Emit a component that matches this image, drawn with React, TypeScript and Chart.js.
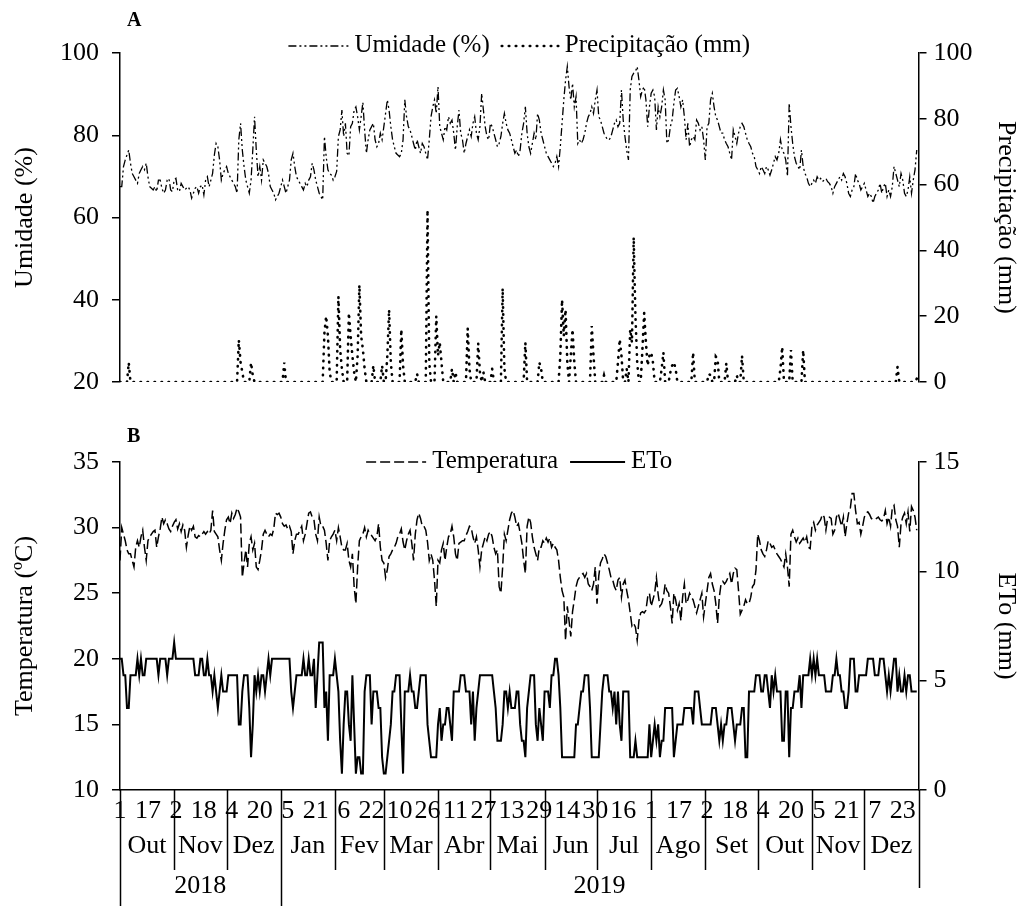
import React, { useEffect, useRef } from 'react';
import { Chart, registerables } from 'chart.js';

Chart.register(...registerables);

const FONT = "'Liberation Serif', 'Times New Roman', Times, serif";

// ---- axis / category data ----
const dayTickValues = [0, 16, 32, 48, 64, 80, 96, 112, 128, 144, 160, 176, 192, 208, 224, 240, 256, 272, 288, 304, 320, 336, 352, 368, 384, 400, 416, 432, 448];
const dayTickLabels = ['1', '17', '2', '18', '4', '20', '5', '21', '6', '22', '10', '26', '11', '27', '13', '29', '14', '30', '16', '1', '17', '2', '18', '4', '20', '5', '21', '7', '23'];
const monthStarts = [0, 31, 61, 92, 123, 151, 182, 212, 243, 273, 304, 335, 365, 396, 426, 457];
const monthNames = ['Out', 'Nov', 'Dez', 'Jan', 'Fev', 'Mar', 'Abr', 'Mai', 'Jun', 'Jul', 'Ago', 'Set', 'Out', 'Nov', 'Dez'];
const yearStarts = [0, 92, 457];
const yearNames = ['2018', '2019'];

// ---- daily series, 1 Oct 2018 .. 31 Dec 2019 ----
const umidade = [
  67.5, 67.5, 72.4, 74.0, 75.2, 76.4, 73.2, 70.7, 69.9, 69.1,
  68.3, 70.7, 71.6, 72.4, 71.6, 73.2, 69.9, 67.5, 67.1, 66.7,
  67.5, 66.3, 69.1, 69.1, 67.1, 65.9, 66.7, 69.1, 69.5, 66.7,
  66.3, 69.1, 69.5, 66.7, 66.3, 68.3, 67.5, 66.7, 67.1, 67.5,
  66.7, 64.7, 65.9, 67.1, 67.5, 65.9, 67.5, 67.9, 65.5, 69.1,
  69.9, 67.5, 69.1, 70.7, 75.2, 78.0, 77.2, 74.0, 69.1, 70.7,
  71.6, 72.4, 70.7, 69.9, 69.1, 68.3, 67.5, 65.9, 78.9, 82.9,
  76.4, 72.4, 69.1, 67.5, 65.9, 69.1, 76.4, 84.5, 76.4, 69.9,
  72.4, 69.1, 74.0, 73.2, 72.4, 70.7, 67.5, 66.7, 65.9, 64.3,
  65.1, 65.9, 67.5, 69.1, 67.5, 65.9, 67.5, 69.1, 74.0, 75.6,
  72.4, 69.9, 69.1, 68.3, 67.5, 66.7, 68.3, 67.5, 69.1, 69.9,
  73.2, 71.6, 69.1, 67.5, 65.9, 65.1, 64.3, 79.7, 74.8, 71.6,
  70.7, 70.3, 69.1, 69.9, 71.2, 79.7, 81.3, 86.1, 79.7, 82.9,
  75.6, 75.0, 82.1, 82.9, 86.1, 86.9, 84.5, 81.3, 84.5, 88.0,
  81.3, 75.6, 78.9, 81.3, 82.1, 82.9, 78.9, 77.2, 78.0, 80.5,
  78.9, 82.1, 85.3, 88.6, 86.1, 82.1, 78.9, 77.2, 75.6, 75.2,
  74.8, 75.6, 78.9, 88.6, 84.5, 82.1, 81.3, 79.7, 78.0, 76.4,
  78.9, 77.2, 75.6, 78.0, 77.2, 75.6, 74.0, 78.9, 84.5, 86.9,
  88.6, 85.3, 91.8, 82.1, 80.5, 78.9, 82.1, 81.3, 84.5, 82.9,
  83.7, 80.5, 76.4, 82.1, 86.1, 80.5, 78.9, 75.6, 78.0, 79.7,
  81.3, 79.7, 82.9, 84.5, 80.5, 78.9, 82.1, 90.2, 86.1, 82.1,
  79.7, 78.9, 82.9, 82.1, 80.5, 78.9, 77.2, 78.0, 79.7, 82.9,
  85.3, 82.9, 81.3, 80.5, 78.9, 77.2, 75.6, 76.4, 74.8, 76.4,
  80.5, 82.9, 86.9, 80.5, 77.2, 75.6, 78.0, 80.5, 78.9, 85.3,
  83.7, 80.5, 78.9, 77.2, 75.6, 74.8, 74.0, 73.2, 72.4, 73.2,
  74.8, 72.4, 77.2, 82.9, 88.6, 93.4, 96.7, 91.8, 88.6, 92.6,
  86.9, 89.4, 78.0, 78.9, 78.0, 78.9, 80.5, 82.9, 84.5, 85.3,
  86.9, 85.3, 88.6, 91.0, 84.5, 83.7, 82.1, 80.5, 79.7, 78.9,
  78.9, 79.7, 81.3, 82.9, 83.7, 82.1, 82.9, 91.0, 83.7, 79.7,
  76.4, 74.0, 91.0, 94.3, 95.1, 95.5, 96.7, 93.4, 89.4, 91.0,
  91.8, 88.6, 82.1, 86.9, 90.2, 91.0, 89.4, 81.3, 86.9, 84.5,
  86.9, 91.0, 88.6, 78.0, 78.9, 82.1, 83.7, 87.8, 91.0, 91.4,
  89.4, 86.9, 88.6, 84.5, 78.9, 82.9, 77.2, 78.9, 79.7, 78.9,
  83.7, 82.9, 81.3, 82.1, 78.9, 74.0, 82.1, 82.9, 88.6, 90.2,
  86.9, 84.5, 83.7, 82.1, 80.5, 80.5, 78.9, 78.0, 77.2, 75.6,
  74.0, 81.3, 79.7, 78.0, 80.5, 82.1, 82.9, 82.1, 80.5, 78.9,
  78.0, 77.2, 75.6, 74.8, 72.4, 71.6, 70.7, 72.4, 71.6, 70.7,
  72.4, 71.6, 70.3, 71.6, 73.2, 74.8, 74.0, 75.6, 78.9, 76.4,
  75.6, 74.0, 70.0, 87.8, 82.1, 78.0, 74.8, 73.2, 72.4, 71.6,
  76.4, 72.4, 70.7, 69.9, 68.3, 67.5, 68.3, 69.1, 68.3, 69.9,
  69.1, 69.5, 68.7, 69.1, 69.5, 68.7, 68.3, 67.5, 65.9, 67.5,
  68.3, 69.1, 69.9, 69.1, 70.7, 69.9, 68.3, 65.9, 65.1, 66.7,
  67.5, 70.7, 69.1, 68.3, 66.7, 67.5, 68.3, 66.7, 65.1, 65.9,
  65.1, 63.5, 65.1, 65.9, 66.7, 68.3, 65.9, 67.5, 68.3, 65.1,
  66.7, 65.1, 67.5, 72.4, 70.7, 69.1, 67.5, 70.7, 69.1, 65.9,
  65.1, 66.7, 69.9, 65.9, 69.1, 71.6, 76.4,
];

const precipitacao = [
  0, 0, 0, 0, 0, 5.9, 0, 0, 0, 0,
  0, 0, 0, 0, 0, 0, 0, 0, 0, 0,
  0, 0, 0, 0, 0, 0, 0, 0, 0, 0,
  0, 0, 0, 0, 0, 0, 0, 0, 0, 0,
  0, 0, 0, 0, 0, 0, 0, 0, 0, 0,
  0, 0, 0, 0, 0, 0, 0, 0, 0, 0,
  0, 0, 0, 0, 0, 0, 0, 0, 12.8, 6,
  3, 0, 0, 0, 0, 5.9, 2, 0, 0, 0,
  0, 0, 0, 0, 0, 0, 0, 0, 0, 0,
  0, 0, 0, 0, 5.9, 0, 0, 0, 0, 0,
  0, 0, 0, 0, 0, 0, 0, 0, 0, 0,
  0, 0, 0, 0, 0, 0, 0, 15, 20, 14,
  3, 0, 0, 0, 0, 26, 10, 4, 0, 0,
  0, 21, 14, 8, 3, 0, 8, 29.5, 14, 10,
  4, 0, 0, 0, 0, 5, 0, 0, 0, 0,
  5, 0, 0, 8, 22, 6, 0, 0, 0, 0,
  0, 16, 5, 0, 0, 0, 0, 0, 0, 0,
  2.5, 0, 0, 0, 0, 0, 52.3, 6, 0, 0,
  0, 20, 8, 12, 6, 0, 0, 0, 0, 0,
  4, 0, 3, 0, 0, 0, 0, 0, 0, 16.3,
  4, 0, 0, 0, 0, 11.8, 3, 0, 3, 0,
  0, 0, 0, 4, 0, 0, 0, 0, 0, 28.5,
  4, 0, 0, 0, 0, 0, 0, 0, 0, 0,
  0, 0, 12, 0, 0, 0, 0, 0, 0, 0,
  6, 4, 0, 0, 0, 0, 0, 0, 0, 0,
  0, 0, 8, 25, 14, 22, 6, 0, 8, 16,
  6, 0, 0, 0, 0, 0, 0, 0, 0, 0,
  17, 8, 0, 0, 0, 0, 0, 2, 0, 0,
  0, 0, 0, 0, 0, 6, 13, 8, 0, 0,
  4, 0, 16, 12, 44, 20, 6, 0, 0, 10,
  21, 12, 5, 8, 9, 6, 0, 0, 0, 0,
  4, 9, 0, 0, 0, 3, 5, 6, 4, 0,
  0, 0, 0, 0, 0, 0, 0, 0, 9, 0,
  0, 0, 0, 0, 0, 0, 0, 2.5, 2, 0,
  0, 7.7, 7, 0, 0, 0, 0, 5.7, 0, 0,
  0, 0, 0, 2, 0, 0, 8, 0, 0, 0,
  0, 0, 0, 0, 0, 0, 0, 0, 0, 0,
  0, 0, 0, 0, 0, 0, 0, 0, 4, 10.7,
  0, 0, 0, 0, 9.7, 0, 0, 0, 0, 0,
  0, 9.7, 0, 0, 0, 0, 0, 0, 0, 0,
  0, 0, 0, 0, 0, 0, 0, 0, 0, 0,
  0, 0, 0, 0, 0, 0, 0, 0, 0, 0,
  0, 0, 0, 0, 0, 0, 0, 0, 0, 0,
  0, 0, 0, 0, 0, 0, 0, 0, 0, 0,
  0, 0, 0, 0, 0, 4.6, 0, 0, 0, 0,
  0, 0, 0, 0, 0, 0, 1,
];

const temperatura = [
  27.5, 30.0, 29.5, 29.0, 28.3, 28.0, 28.0, 27.5, 27.0, 28.5,
  29.0, 28.5, 29.3, 29.8, 28.5, 27.5, 29.0, 29.3, 29.5, 29.7,
  29.8, 28.5, 29.3, 29.9, 30.8, 30.3, 30.6, 30.3, 29.9, 29.7,
  30.1, 30.4, 30.6, 29.9, 30.3, 29.7, 30.2, 29.8, 28.5, 29.4,
  30.1, 29.8, 30.1, 29.3, 29.2, 29.4, 29.3, 29.5, 29.7, 29.5,
  29.7, 29.5, 29.8, 31.3, 29.7, 29.5, 29.3, 28.3, 27.5, 28.8,
  29.8, 30.6, 30.8, 30.3, 31.1, 30.7, 31.0, 31.5, 31.2, 30.8,
  26.2, 27.3, 28.3, 27.0, 28.8, 29.3, 28.3, 28.8, 27.0, 26.8,
  27.5, 28.3, 29.5, 29.8, 29.5, 29.3, 29.5, 29.4, 29.9, 31.1,
  31.0, 31.1, 30.8, 30.3, 30.1, 30.2, 29.9, 30.1, 29.7, 28.0,
  29.0, 29.5, 29.5, 29.8, 30.1, 29.0, 29.5, 30.3, 31.1, 31.2,
  30.8, 30.6, 29.5, 29.0, 30.8, 30.1, 30.1, 29.8, 28.8, 27.5,
  29.0, 29.3, 29.5, 29.8, 29.0, 30.0, 29.3, 28.5, 28.3, 28.3,
  28.8, 27.5, 27.0, 28.0, 25.5, 24.2, 27.0, 29.0, 29.3, 29.5,
  30.0, 29.3, 29.8, 29.5, 29.4, 29.2, 29.0, 29.3, 30.3, 28.5,
  27.5, 27.3, 26.2, 26.8, 27.8, 28.0, 28.3, 28.5, 28.8, 29.3,
  29.5, 29.9, 28.9, 28.3, 29.0, 29.5, 29.8, 28.8, 27.5, 29.5,
  30.6, 31.1, 30.7, 30.1, 30.1, 29.8, 28.9, 27.5, 28.0, 27.5,
  26.0, 24.0, 27.5, 27.3, 28.3, 28.8, 27.5, 28.5, 29.3, 29.5,
  30.1, 29.3, 28.0, 27.5, 28.8, 28.9, 29.0, 29.0, 29.4, 29.7,
  30.1, 30.0, 29.3, 28.8, 29.3, 28.3, 27.0, 28.3, 28.8, 29.3,
  29.0, 29.5, 29.7, 29.3, 28.5, 28.0, 28.3, 25.5, 25.0, 27.0,
  29.5, 29.0, 29.8, 30.6, 31.1, 31.3, 30.8, 30.1, 30.3, 29.6,
  28.8, 27.5, 26.5, 30.1, 30.8, 30.4, 29.3, 28.5, 28.0, 27.5,
  28.5, 28.5, 29.0, 28.8, 29.2, 28.9, 29.2, 28.5, 28.8, 28.5,
  28.3, 27.5, 26.2, 25.2, 24.7, 21.4, 24.0, 22.9, 21.7, 23.6,
  24.5, 25.5, 26.0, 26.2, 26.4, 26.5, 26.2, 26.5, 25.7, 25.5,
  25.2, 25.7, 27.0, 24.2, 26.3, 27.3, 27.6, 28.0, 27.8, 27.3,
  26.8, 26.2, 26.0, 25.5, 25.2, 26.0, 26.2, 24.7, 25.7, 26.0,
  25.2, 24.5, 23.5, 22.5, 22.7, 22.4, 21.4, 22.9, 23.5, 23.6,
  23.5, 23.7, 24.7, 25.0, 24.0, 24.5, 25.0, 26.2, 24.9, 24.0,
  24.2, 24.7, 25.7, 25.2, 25.0, 24.0, 22.7, 25.0, 24.5, 23.7,
  24.2, 22.9, 24.7, 25.7, 24.2, 24.5, 25.0, 24.7, 24.5, 24.0,
  23.5, 24.0, 24.5, 25.0, 23.2, 24.2, 25.2, 26.2, 26.5, 25.7,
  25.2, 24.2, 22.7, 24.7, 25.7, 25.9, 25.7, 25.9, 26.2, 26.5,
  25.7, 26.5, 26.9, 26.8, 25.2, 23.4, 23.7, 24.0, 24.5, 24.2,
  24.2, 24.7, 25.5, 25.7, 26.8, 29.5, 29.0, 28.3, 28.0, 27.8,
  28.3, 29.0, 28.8, 28.5, 28.6, 28.3, 28.0, 27.8, 27.6, 27.3,
  27.0, 28.0, 27.0, 25.5, 29.5, 29.8, 29.3, 28.9, 29.2, 28.8,
  29.0, 29.2, 28.9, 29.3, 28.5, 28.4, 30.1, 30.4, 29.8, 30.2,
  30.4, 30.6, 31.0, 30.8, 29.8, 30.7, 30.8, 30.7, 29.5, 29.8,
  30.8, 31.1, 30.6, 30.1, 30.8, 29.3, 30.3, 31.1, 31.5, 32.6,
  32.6, 31.3, 30.3, 30.4, 29.5, 30.1, 30.8, 31.1, 31.2, 31.0,
  30.7, 30.6, 30.6, 30.7, 30.8, 30.6, 30.5, 30.7, 31.3, 30.3,
  30.8, 30.1, 31.5, 31.7, 30.6, 30.1, 28.5, 30.3, 30.8, 31.1,
  30.3, 31.2, 29.7, 31.6, 31.3, 30.8, 29.8,
];

const eto = [
  6, 6, 5.25, 5.25, 3.75, 3.75, 5.25, 5.25, 5.25, 5.25,
  6, 5.25, 6, 5.25, 5.25, 6, 6, 6, 6, 6,
  6, 6, 5.25, 6, 6, 6, 6, 5.25, 6, 6,
  6, 6.75, 6, 6, 6, 6, 6, 6, 6, 6,
  6, 6, 6, 5.25, 5.25, 5.25, 6, 6, 5.25, 5.25,
  6, 5.25, 5.25, 4.5, 5.25, 4.5, 3.75, 4.5, 5.25, 4.5,
  4.5, 4.5, 5.25, 5.25, 5.25, 5.25, 5.25, 5.25, 3, 3,
  4.5, 5.25, 5.25, 5.25, 3.75, 1.5, 3, 5.25, 4.5, 5.25,
  4.5, 5.25, 5.25, 4.5, 5.25, 6, 5.25, 6, 6, 6,
  6, 6, 6, 6, 6, 6, 6, 6, 4.5, 3.75,
  4.5, 5.25, 5.25, 5.25, 5.25, 6, 5.25, 5.25, 6, 5.25,
  5.25, 6, 3.75, 5.25, 6.75, 6.75, 6.75, 3.75, 4.5, 2.25,
  5.25, 5.25, 5.25, 6, 5.25, 4.5, 2.25, 0.75, 3, 4.5,
  4.5, 3, 2.25, 5.25, 3, 0.75, 1.5, 1.5, 0.75, 0.75,
  4.5, 5.25, 5.25, 5.25, 3, 4.5, 4.5, 4.5, 3.75, 3.75,
  1.5, 0.75, 0.75, 1.5, 2.25, 3, 4.5, 4.5, 5.25, 5.25,
  5.25, 3, 0.75, 4.5, 4.5, 4.5, 5.25, 4.5, 4.5, 3.75,
  3.75, 4.5, 5.25, 5.25, 5.25, 5.25, 3, 2.25, 1.5, 1.5,
  1.5, 1.5, 3, 3.75, 2.25, 3, 3, 3.75, 3.75, 3,
  2.25, 4.5, 4.5, 4.5, 4.5, 5.25, 5.25, 5.25, 4.5, 4.5,
  4.5, 3, 4.5, 2.25, 3.75, 4.5, 5.25, 5.25, 5.25, 5.25,
  5.25, 5.25, 5.25, 5.25, 4.5, 3.75, 2.25, 2.25, 2.25, 3,
  4.5, 4.5, 3.75, 4.5, 3.75, 3.75, 3.75, 4.5, 4.5, 3,
  2.25, 2.25, 1.5, 3.75, 4.5, 5.25, 5.25, 5.25, 3, 2.25,
  3.75, 3, 2.25, 4.5, 4.5, 4.5, 3.75, 5.25, 5.25, 6,
  6, 5.25, 3.75, 1.5, 1.5, 1.5, 1.5, 1.5, 1.5, 1.5,
  1.5, 3, 3, 3.75, 4.5, 4.5, 5.25, 5.25, 5.25, 3.75,
  1.5, 1.5, 1.5, 1.5, 1.5, 3, 4.5, 5.25, 5.25, 5.25,
  4.5, 4.5, 3.75, 4.5, 3, 4.5, 3, 2.25, 4.5, 4.5,
  4.5, 4.5, 1.5, 1.5, 1.5, 2.25, 1.5, 1.5, 1.5, 1.5,
  1.5, 1.5, 1.5, 3, 1.5, 2.25, 3, 2.25, 3, 1.5,
  2.25, 2.25, 3.75, 3.75, 3.75, 3.75, 3.75, 1.5, 2.25, 3,
  3, 3, 3, 3.75, 3.75, 3.75, 3.75, 3.75, 3, 4.5,
  4.5, 4.5, 3.75, 3, 3, 3, 3, 3, 3, 3.75,
  3.75, 3.75, 3, 2.25, 3, 2.25, 3, 3, 3.75, 3.75,
  3.75, 3, 2.25, 3, 3, 3, 3.75, 3.75, 1.5, 1.5,
  4.5, 4.5, 4.5, 4.5, 5.25, 5.25, 5.25, 4.5, 4.5, 5.25,
  5.25, 4.5, 3.75, 5.25, 4.5, 5.25, 4.5, 4.5, 4.5, 2.25,
  2.25, 4.5, 4.5, 1.5, 3.75, 3.75, 4.5, 4.5, 4.5, 5.25,
  3.75, 5.25, 5.25, 5.25, 5.25, 6, 5.25, 6, 5.25, 6,
  5.25, 5.25, 5.25, 5.25, 4.5, 4.5, 4.5, 4.5, 5.25, 5.25,
  6, 5.25, 5.25, 4.5, 4.5, 3.75, 3.75, 4.5, 6, 6,
  6, 4.5, 4.5, 5.25, 5.25, 5.25, 5.25, 5.25, 6, 6,
  6, 6, 5.25, 5.25, 5.25, 6, 6, 6, 5.25, 4.5,
  5.25, 4.5, 5.25, 6, 6, 4.5, 5.25, 4.5, 4.5, 5.25,
  4.5, 5.25, 5.25, 4.5, 4.5, 4.5, 4.5,
];

const toXY = (arr: number[]) => arr.map((y, i) => ({ x: i, y }));

type LegendItem = { text: string; dash: number[]; width: number; len: number; cap?: CanvasLineCap };

function legendPlugin(id: string, items: LegendItem[], dy: number) {
  return {
    id,
    afterDraw(chart: any) {
      const { ctx, chartArea } = chart;
      ctx.save();
      ctx.font = `25px ${FONT}`;
      ctx.fillStyle = '#000';
      ctx.textBaseline = 'middle';
      ctx.textAlign = 'left';
      const gapIn = 6;
      const gapOut = 12;
      let total = 0;
      items.forEach((it, i) => {
        total += it.len + gapIn + ctx.measureText(it.text).width + (i < items.length - 1 ? gapOut : 0);
      });
      let x = (chartArea.left + chartArea.right) / 2 - total / 2;
      const y = chartArea.top + dy;
      items.forEach((it) => {
        ctx.beginPath();
        ctx.setLineDash(it.dash);
        ctx.lineCap = it.cap || 'butt';
        ctx.lineWidth = it.width;
        ctx.strokeStyle = '#000';
        ctx.moveTo(x, y + 1);
        ctx.lineTo(x + it.len, y + 1);
        ctx.stroke();
        x += it.len + gapIn;
        ctx.setLineDash([]);
        ctx.fillText(it.text, x, y);
        x += ctx.measureText(it.text).width + gapOut;
      });
      ctx.restore();
    },
  };
}

function panelLabel(id: string, text: string, x: number, y: number) {
  return {
    id,
    afterDraw(chart: any) {
      const { ctx } = chart;
      ctx.save();
      ctx.font = `bold 20px ${FONT}`;
      ctx.fillStyle = '#000';
      ctx.textBaseline = 'middle';
      ctx.textAlign = 'left';
      ctx.fillText(text, x, y);
      ctx.restore();
    },
  };
}

const categoryAxisPlugin = {
  id: 'categoryAxis',
  afterDraw(chart: any) {
    const { ctx, chartArea } = chart;
    const xs = chart.scales.x;
    const bottom = chartArea.bottom;
    ctx.save();
    ctx.strokeStyle = '#000';
    ctx.lineWidth = 1.5;
    monthStarts.forEach((m) => {
      const px = Math.round(xs.getPixelForValue(m)) + 0.5;
      let end = bottom + 80;
      if (yearStarts.includes(m)) end = m === yearStarts[yearStarts.length - 1] ? bottom + 98 : chart.height;
      ctx.beginPath();
      ctx.moveTo(px, bottom);
      ctx.lineTo(px, end);
      ctx.stroke();
    });
    ctx.fillStyle = '#000';
    ctx.font = `26px ${FONT}`;
    ctx.textAlign = 'center';
    ctx.textBaseline = 'middle';
    monthNames.forEach((name, i) => {
      const a = xs.getPixelForValue(monthStarts[i]);
      const b = xs.getPixelForValue(monthStarts[i + 1]);
      ctx.fillText(name, (a + b) / 2, bottom + 56);
    });
    yearNames.forEach((name, i) => {
      const a = xs.getPixelForValue(yearStarts[i]);
      const b = xs.getPixelForValue(yearStarts[i + 1]);
      ctx.fillText(name, (a + b) / 2, bottom + 96);
    });
    ctx.restore();
  },
};

const tickFont = { family: FONT, size: 26 };

function yAxis(position: 'left' | 'right', min: number, max: number, step: number, title: string, width: number) {
  return {
    position,
    min,
    max,
    afterFit: (s: any) => {
      s.width = width;
    },
    ticks: {
      stepSize: step,
      color: '#000',
      font: tickFont,
      padding: position === 'left' ? 13 : 7,
    },
    grid: { drawOnChartArea: false, color: '#000', tickLength: 8, lineWidth: 1.5 },
    border: { color: '#000', width: 1.5 },
    title: {
      display: true,
      text: title,
      color: '#000',
      font: tickFont,
      padding: { top: position === 'left' ? 10 : 4, bottom: 0 },
    },
  };
}

export default function App() {
  const refA = useRef<HTMLCanvasElement>(null);
  const refB = useRef<HTMLCanvasElement>(null);

  useEffect(() => {
    const chartA = new Chart(refA.current as HTMLCanvasElement, {
      type: 'line',
      data: {
        datasets: [
          {
            label: 'Umidade (%)',
            data: toXY(umidade),
            yAxisID: 'y',
            borderColor: '#000',
            borderWidth: 1.3,
            borderDash: [8, 3, 2, 3, 2, 3],
            pointRadius: 0,
            tension: 0,
            fill: false,
          },
          {
            label: 'Precipitação (mm)',
            data: toXY(precipitacao),
            yAxisID: 'y1',
            borderColor: '#000',
            borderWidth: 2.6,
            borderDash: [0.5, 6.5],
            borderCapStyle: 'round',
            pointRadius: 0,
            tension: 0,
            fill: false,
          },
        ],
      } as any,
      options: {
        animation: false,
        responsive: false,
        devicePixelRatio: 1,
        events: [],
        layout: { padding: { top: 53, bottom: 38, left: 0, right: 0 } },
        plugins: { legend: { display: false }, tooltip: { enabled: false } },
        scales: {
          x: { type: 'linear', min: 0, max: 457, display: false },
          y: yAxis('left', 20, 100, 20, 'Umidade (%)', 120),
          y1: yAxis('right', 0, 100, 20, 'Precipitação (mm)', 106.5),
        },
      } as any,
      plugins: [
        legendPlugin('legA', [
          { text: 'Umidade (%)', dash: [8, 3, 2, 3, 2, 3], width: 1.4, len: 60 },
          { text: 'Precipitação (mm)', dash: [0.5, 6.5], width: 2.6, len: 57, cap: 'round' },
        ], -8),
        panelLabel('labA', 'A', 127, 21),
      ],
    });

    const chartB = new Chart(refB.current as HTMLCanvasElement, {
      type: 'line',
      data: {
        datasets: [
          {
            label: 'Temperatura',
            data: toXY(temperatura),
            yAxisID: 'y',
            borderColor: '#000',
            borderWidth: 1.5,
            borderDash: [10, 4],
            pointRadius: 0,
            tension: 0,
            fill: false,
          },
          {
            label: 'ETo',
            data: toXY(eto),
            yAxisID: 'y1',
            borderColor: '#000',
            borderWidth: 2,
            pointRadius: 0,
            tension: 0,
            fill: false,
          },
        ],
      } as any,
      options: {
        animation: false,
        responsive: false,
        devicePixelRatio: 1,
        events: [],
        layout: { padding: { top: 42, bottom: 0, left: 0, right: 0 } },
        plugins: { legend: { display: false }, tooltip: { enabled: false } },
        scales: {
          x: {
            type: 'linear',
            position: 'bottom',
            min: 0,
            max: 457,
            afterFit: (s: any) => {
              s.height = 116;
            },
            afterBuildTicks: (s: any) => {
              s.ticks = dayTickValues.map((v) => ({ value: v }));
            },
            ticks: {
              autoSkip: false,
              maxRotation: 0,
              minRotation: 0,
              color: '#000',
              font: tickFont,
              padding: 6,
              callback: (_v: any, i: number) => dayTickLabels[i],
            },
            grid: { display: false, drawTicks: false },
            border: { display: true, color: '#000', width: 1.5 },
          },
          y: yAxis('left', 10, 35, 5, 'Temperatura (ºC)', 120),
          y1: yAxis('right', 0, 15, 5, 'ETo (mm)', 106.5),
        },
      } as any,
      plugins: [
        legendPlugin('legB', [
          { text: 'Temperatura', dash: [10, 4], width: 1.5, len: 60 },
          { text: 'ETo', dash: [], width: 2, len: 55 },
        ], -1),
        panelLabel('labB', 'B', 127, 17),
        categoryAxisPlugin,
      ],
    });

    return () => {
      chartA.destroy();
      chartB.destroy();
    };
  }, []);

  return (
    <div style={{ position: 'absolute', left: 0, top: 0, width: 1025, height: 906, background: '#fff' }}>
      <canvas ref={refA} width={1025} height={420} style={{ position: 'absolute', left: 0, top: 0, display: 'block' }} />
      <canvas ref={refB} width={1025} height={486} style={{ position: 'absolute', left: 0, top: 420, display: 'block' }} />
    </div>
  );
}
